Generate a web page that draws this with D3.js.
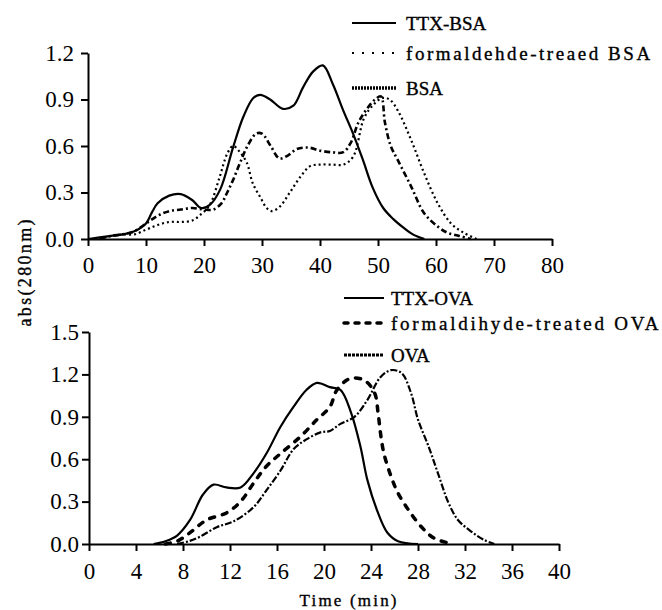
<!DOCTYPE html>
<html>
<head>
<meta charset="utf-8">
<script src="https://cdn.jsdelivr.net/npm/d3@7"></script>
<style>
  body { margin: 0; background: #fff; }
  .axis path, .axis line { stroke: #000; stroke-width: 2px; }
  .axis text { font-family: "Liberation Serif", serif; font-size: 23px; }
  .leg { font-family: "Liberation Serif", serif; font-size: 19px; fill: #000; stroke: #000; stroke-width: 0.35px; }
</style>
</head>
<body>
<div id="chart"></div>
<script>
// top panel - BSA
var ttxBsaTime = [0, 2, 4, 6, 8, 10, 11, 12, 14, 16, 18, 19.5, 21, 22.8, 25, 26.8, 28.5, 29.7, 31.4, 33.6, 35.4, 37.1, 38.8, 40.5, 42.2, 44, 45.7, 47.4, 49.1, 50.9, 52.6, 54.5, 56, 58];
var ttxBsa = [0, 0.01, 0.02, 0.03, 0.05, 0.1, 0.17, 0.23, 0.28, 0.29, 0.25, 0.2, 0.22, 0.32, 0.59, 0.79, 0.91, 0.93, 0.9, 0.84, 0.86, 0.98, 1.08, 1.12, 1.0, 0.83, 0.68, 0.51, 0.33, 0.2, 0.13, 0.07, 0.03, 0];
var fBsaTime = [2, 4, 6, 8, 10, 12, 14, 16, 18, 19.5, 21, 22.7, 24, 25, 26.2, 27.4, 28.4, 29.7, 30.8, 31.7, 33.1, 34.8, 36.6, 38.3, 40, 42, 44, 45.7, 47.6, 49.3, 50.8, 52, 53.4, 55.7, 57.9, 60.3, 62.6, 64.8, 67];
var fBsa = [0, 0.02, 0.03, 0.03, 0.06, 0.09, 0.11, 0.11, 0.12, 0.16, 0.22, 0.4, 0.55, 0.6, 0.56, 0.49, 0.36, 0.27, 0.2, 0.18, 0.21, 0.3, 0.4, 0.47, 0.48, 0.48, 0.48, 0.53, 0.78, 0.87, 0.91, 0.9, 0.83, 0.64, 0.43, 0.23, 0.1, 0.04, 0];
var bsaTime = [2, 4, 6, 8, 10, 12, 14, 16, 18, 20, 21.6, 23, 24, 25, 26.2, 27.5, 29, 30, 31.5, 33, 34.5, 36, 38, 40, 42, 44, 45.3, 46.6, 48.1, 49.5, 50.5, 51.2, 52.2, 53.4, 55.7, 57.9, 60.3, 62, 64, 66];
var bsa = [0, 0.02, 0.03, 0.05, 0.1, 0.15, 0.18, 0.19, 0.2, 0.19, 0.19, 0.23, 0.3, 0.38, 0.49, 0.6, 0.68, 0.68, 0.6, 0.52, 0.54, 0.58, 0.59, 0.57, 0.56, 0.56, 0.62, 0.75, 0.84, 0.9, 0.92, 0.75, 0.6, 0.51, 0.34, 0.17, 0.08, 0.04, 0.02, 0];

// bottom panel - OVA
var ttxOvaTime = [5.5, 6.5, 7.5, 8.6, 9.7, 10.6, 11.7, 12.9, 14, 15.1, 16.3, 17.4, 18.5, 19.4, 20.5, 21.4, 22.3, 23.1, 23.7, 24.6, 25.4, 26.3, 28];
var ttxOva = [0, 0.02, 0.06, 0.17, 0.35, 0.42, 0.4, 0.4, 0.5, 0.64, 0.83, 0.97, 1.09, 1.14, 1.11, 1.09, 0.93, 0.69, 0.45, 0.22, 0.08, 0.02, 0];
var fOvaTime = [6.5, 7.5, 8.6, 10, 11.7, 12.9, 14, 15.1, 16.3, 18, 19.4, 20.5, 21.1, 22.2, 23.4, 24.3, 24.6, 24.8, 25.1, 25.7, 26.3, 27.2, 28.3, 29.4, 31];
var fOva = [0, 0.02, 0.08, 0.17, 0.22, 0.3, 0.43, 0.55, 0.64, 0.76, 0.88, 0.97, 1.09, 1.17, 1.16, 1.07, 0.93, 0.79, 0.64, 0.48, 0.36, 0.24, 0.12, 0.04, 0];
var ovaTime = [7.5, 8.5, 9.4, 10.9, 12.3, 14, 15.1, 16.3, 17.4, 18.5, 19.7, 20.5, 21.4, 22.6, 23.7, 24.8, 25.7, 26.6, 27.4, 28, 28.9, 29.7, 30.6, 31.4, 32.5, 33.6, 34.5];
var ova = [0, 0.02, 0.05, 0.12, 0.16, 0.26, 0.38, 0.52, 0.67, 0.74, 0.79, 0.8, 0.85, 0.9, 1.02, 1.18, 1.23, 1.21, 1.07, 0.88, 0.69, 0.5, 0.29, 0.17, 0.09, 0.03, 0];

var topTicksX = [0, 10, 20, 30, 40, 50, 60, 70, 80];
var topTicksY = [0, 0.3, 0.6, 0.9, 1.2];
var botTicksX = [0, 4, 8, 12, 16, 20, 24, 28, 32, 36, 40];
var botTicksY = [0, 0.3, 0.6, 0.9, 1.2, 1.5];

var topLegend = ["TTX-BSA", "formaldehde-treaed BSA", "BSA"];
var botLegend = ["TTX-OVA", "formaldihyde-treated OVA", "OVA"];

var svg = d3.select("#chart").append("svg")
  .attr("width", 662)
  .attr("height", 610);

function zip(t, v) {
  return t.map(function(d, i) { return [d, v[i]]; });
}

// widen a label to the monospace-like width of the scanned figure (never squeeze it)
function spread(sel, width) {
  var natural = sel.node().getComputedTextLength();
  if (natural < width) {
    sel.attr("textLength", width).attr("lengthAdjust", "spacing");
  }
}

function panel(opt) {
  var x = d3.scaleLinear().domain(opt.xDomain).range(opt.xRange);
  var y = d3.scaleLinear().domain(opt.yDomain).range(opt.yRange);
  var g = svg.append("g");

  //### X axis ###
  g.append("g")
    .attr("class", "axis")
    .attr("transform", "translate(0," + opt.yRange[0] + ")")
    .call(d3.axisBottom(x).tickValues(opt.xTicks).tickSize(7).tickSizeOuter(0).tickPadding(opt.xPad).tickFormat(d3.format("d")));

  //### Y axis ###
  g.append("g")
    .attr("class", "axis")
    .attr("transform", "translate(" + opt.xRange[0] + ",0)")
    .call(d3.axisLeft(y).tickValues(opt.yTicks).tickSize(7).tickSizeOuter(0).tickPadding(opt.yPad).tickFormat(d3.format(".1f")));

  var line = d3.line()
    .x(function(d) { return x(d[0]); })
    .y(function(d) { return y(d[1]); })
    .curve(d3.curveCatmullRom.alpha(0.5));

  opt.series.forEach(function(s) {
    g.append("path")
      .datum(zip(s.t, s.v))
      .attr("fill", "none")
      .attr("stroke", "#000")
      .attr("stroke-width", s.w)
      .attr("stroke-dasharray", s.dash)
      .attr("stroke-linecap", s.cap || "butt")
      .attr("d", line);
  });

  // legend
  opt.series.forEach(function(s, i) {
    var ly = opt.legY[i];
    g.append("line")
      .attr("x1", opt.legX[0]).attr("x2", opt.legX[1])
      .attr("y1", ly).attr("y2", ly)
      .attr("stroke", "#000")
      .attr("stroke-width", s.lw || s.w)
      .attr("stroke-dasharray", s.ldash || s.dash)
      .attr("stroke-linecap", s.cap || "butt");
    var t = g.append("text")
      .attr("class", "leg")
      .attr("x", opt.legX[2])
      .attr("y", ly)
      .attr("dy", "0.35em")
      .text(opt.labels[i]);
    spread(t, opt.labels[i].length * opt.cw);
  });
}

panel({
  xDomain: [0, 80], xRange: [88, 552],
  yDomain: [0, 1.2], yRange: [239, 53],
  xTicks: topTicksX, yTicks: topTicksY, xPad: 11, yPad: 7,
  labels: topLegend, cw: 11.1,
  legX: [352, 396, 406], legY: [23, 53, 88],
  series: [
    { t: ttxBsaTime, v: ttxBsa, w: 2.2, dash: null },
    { t: fBsaTime, v: fBsa, w: 2.2, dash: "2,3", ldash: "2,8" },
    { t: bsaTime, v: bsa, w: 2.6, dash: "6,3,2,3", lw: 3.5, ldash: "2,1" }
  ]
});

panel({
  xDomain: [0, 40], xRange: [89, 559],
  yDomain: [0, 1.5], yRange: [544, 332],
  xTicks: botTicksX, yTicks: botTicksY, xPad: 12, yPad: 3,
  labels: botLegend, cw: 11.15,
  legX: [344, 384, 391], legY: [298, 323, 355],
  series: [
    { t: ttxOvaTime, v: ttxOva, w: 2.2, dash: null },
    { t: fOvaTime, v: fOva, w: 3.5, dash: "5,8", ldash: "4,7", cap: "round" },
    { t: ovaTime, v: ova, w: 2.2, dash: "7,2,2,2", lw: 3, ldash: "3,1" }
  ]
});

// shared axis titles
var yTitle = svg.append("text")
  .attr("class", "leg")
  .attr("transform", "translate(25,273) rotate(-90)")
  .attr("text-anchor", "middle")
  .attr("dy", "0.35em")
  .style("font-size", "18px")
  .text("abs(280nm)");
spread(yTitle, 107);

var xTitle = svg.append("text")
  .attr("class", "leg")
  .attr("x", 348)
  .attr("y", 600)
  .attr("text-anchor", "middle")
  .attr("dy", "0.35em")
  .style("font-size", "17px")
  .text("Time (min)");
spread(xTitle, 97);
</script>
</body>
</html>
